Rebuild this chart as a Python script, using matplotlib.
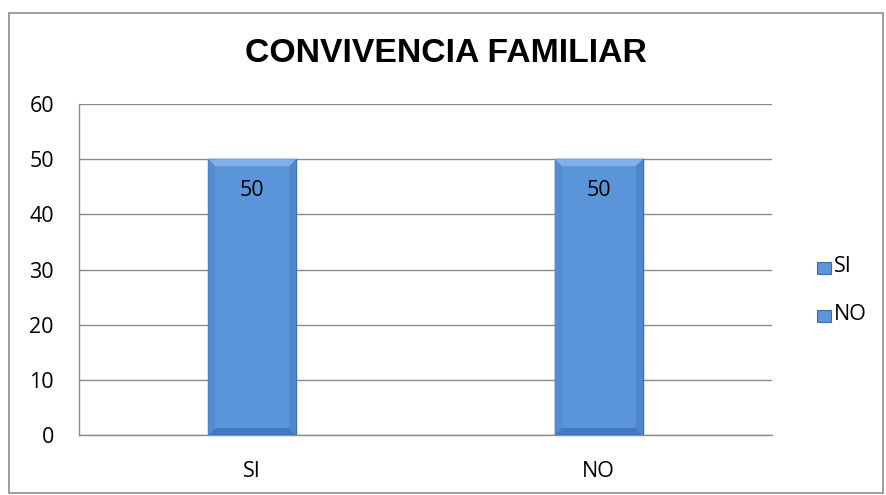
import matplotlib.pyplot as plt
from matplotlib.patches import Rectangle, Polygon

categories = ["SI", "NO"]
values = [50, 50]
yticks = [0, 10, 20, 30, 40, 50, 60]

BAR = "#5a94d9"
EDGE = "#3a6db0"
GRID = "#8c8c8c"

plt.rcParams["font.family"] = ["Open Sans", "DejaVu Sans"]

fig = plt.figure(figsize=(8.86, 4.95), dpi=100)
ax = fig.add_axes([79 / 886, 1 - 435 / 495, 693 / 886, 331 / 495])

x = list(range(len(categories)))
width = 0.254
bars = ax.bar(x, values, width=width, color=BAR, edgecolor=EDGE, linewidth=1.0,
              zorder=3)

# bevel effect on each bar
dx = 7 * len(categories) / 693
dy = 7 * 60 / 331
for xi, v in zip(x, values):
    x0, x1 = xi - width / 2, xi + width / 2
    ax.add_patch(Polygon([(x0, v), (x1, v), (x1 - dx, v - dy), (x0 + dx, v - dy)],
                         closed=True, facecolor="#7fb0ea", lw=0, zorder=3.5))
    ax.add_patch(Polygon([(x0, 0), (x1, 0), (x1 - dx, dy), (x0 + dx, dy)],
                         closed=True, facecolor="#4579bd", lw=0, zorder=3.5))
    ax.add_patch(Polygon([(x0, 0), (x0, v), (x0 + dx, v - dy), (x0 + dx, dy)],
                         closed=True, facecolor="#528cd3", lw=0, zorder=3.5))
    ax.add_patch(Polygon([(x1, 0), (x1, v), (x1 - dx, v - dy), (x1 - dx, dy)],
                         closed=True, facecolor="#4f87cc", lw=0, zorder=3.5))
    ax.text(xi, v - 5.6, f"{v}", ha="center", va="center", fontsize=15.5,
            color="black", zorder=4)

ax.set_xlim(-0.5, len(categories) - 0.5)
ax.set_ylim(0, 60)
ax.set_yticks(yticks)
ax.set_xticks(x, categories)
ax.tick_params(axis="both", length=0, labelsize=15.5)
ax.tick_params(axis="x", pad=19)
ax.tick_params(axis="y", pad=18)
ax.yaxis.grid(True, color=GRID, lw=1)
ax.set_axisbelow(True)
for s in ("top", "right"):
    ax.spines[s].set_visible(False)
for s in ("left", "bottom"):
    ax.spines[s].set_color(GRID)
    ax.spines[s].set_linewidth(1)

fig.text(446 / 886, 1 - 53 / 495, "CONVIVENCIA FAMILIAR", ha="center",
         va="center", fontsize=24.3, fontweight="bold",
         family=["Liberation Sans", "DejaVu Sans"])

# legend: one entry per category, same colour
for i, cat in enumerate(categories):
    ypix = 267 + 48 * i
    fig.patches.append(Rectangle((817 / 886, 1 - (ypix + 7) / 495), 14 / 886,
                                 12 / 495, transform=fig.transFigure,
                                 facecolor=BAR, edgecolor=EDGE, lw=0.8))
    fig.text(834 / 886, 1 - ypix / 495, cat, ha="left", va="center",
             fontsize=15.5)

# chart border
fig.patches.append(Rectangle((9 / 886, 2 / 495), 874 / 886, 480 / 495,
                             transform=fig.transFigure, fill=False,
                             edgecolor="#8c8c8c", lw=1.2))

fig.savefig("out.png", dpi=100)
